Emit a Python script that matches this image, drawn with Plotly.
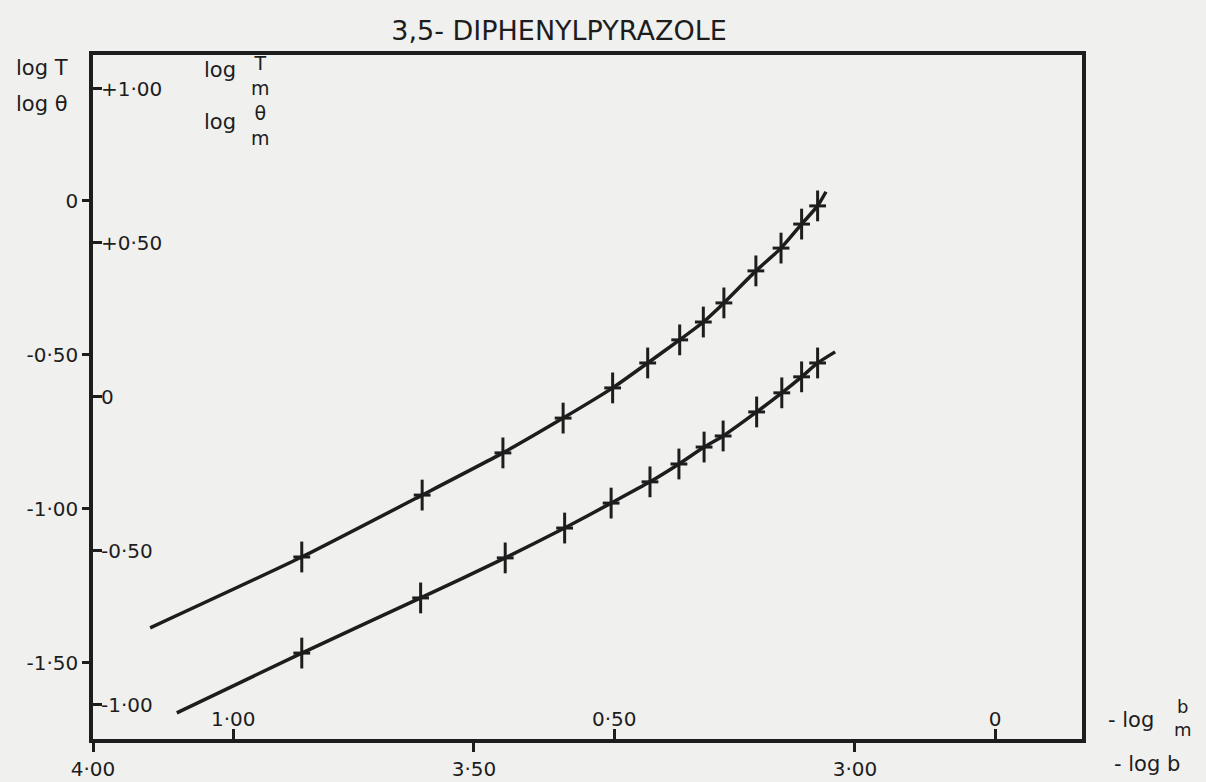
import plotly.graph_objects as go

# ---------------- data ----------------
# outer scales: x = -log b, y = log T (upper curve) / log theta (lower curve)
upper_x = [3.726, 3.568, 3.462, 3.383, 3.318, 3.272, 3.230, 3.199, 3.172, 3.130, 3.097, 3.070, 3.049]
upper_y = [-1.156, -0.955, -0.818, -0.705, -0.607, -0.526, -0.451, -0.393, -0.331, -0.227, -0.153, -0.075, -0.016]
lower_x = [3.726, 3.570, 3.459, 3.381, 3.320, 3.269, 3.231, 3.198, 3.173, 3.129, 3.096, 3.070, 3.049]
lower_y = [-1.468, -1.289, -1.159, -1.062, -0.981, -0.912, -0.854, -0.799, -0.763, -0.685, -0.623, -0.571, -0.526]
# ends of the drawn curves (they run past the first and last points)
upper_ends_x = [3.925, 3.038]
upper_ends_y = [-1.386, 0.030]
lower_ends_x = [3.890, 3.026]
lower_ends_y = [-1.662, -0.490]

# tick values and labels
x_ticks = [4.00, 3.50, 3.00]
x_ticktext = ["4·00", "3·50", "3·00"]
x2_ticks = [1.00, 0.50, 0.0]
x2_ticktext = ["1·00", "0·50", "0"]
y_ticks = [0.0, -0.50, -1.00, -1.50]
y_ticktext = ["0", "-0·50", "-1·00", "-1·50"]
y2_ticks = [1.00, 0.50, 0.0, -0.50, -1.00]
y2_ticktext = ["+1·00", "+0·50", "0", "-0·50", "-1·00"]

X_RANGE = [4.00, 2.702]
Y_RANGE = [-1.747, 0.474]
X_SHIFT = -2.816   # -log(b/m) = -log b + X_SHIFT
Y_SHIFT = 0.636    # log(T/m) = log T + Y_SHIFT

INK = "#1d1d1d"
PAPER = "#f0f0ee"
FONT = "DejaVu Sans"

W, H = 1206, 782
L, R, T, B = 93, 1082, 55, 739


def px(xp):
    return (xp - L) / (R - L)


def py(yp):
    return (B - yp) / (B - T)


fig = go.Figure()


def curve(xs, ys, ends_x, ends_y):
    cx = [ends_x[0]] + xs + [ends_x[1]]
    cy = [ends_y[0]] + ys + [ends_y[1]]
    fig.add_trace(go.Scatter(x=cx, y=cy, mode="lines", line=dict(color=INK, width=3.5, shape="spline", smoothing=0.5),
                             hoverinfo="skip", showlegend=False))
    fig.add_trace(go.Scatter(x=xs, y=ys, mode="markers",
                             marker=dict(symbol="line-ns", size=22, line=dict(color=INK, width=3)),
                             showlegend=False))
    fig.add_trace(go.Scatter(x=xs, y=ys, mode="markers",
                             marker=dict(symbol="line-ew", size=12, line=dict(color=INK, width=3)),
                             showlegend=False))


curve(upper_x, upper_y, upper_ends_x, upper_ends_y)
curve(lower_x, lower_y, lower_ends_x, lower_ends_y)

# invisible trace so the inner (secondary) scales are drawn
fig.add_trace(go.Scatter(x=[None], y=[None], xaxis="x2", yaxis="y2", mode="markers", showlegend=False))

tickfont = dict(family=FONT, size=20, color=INK)

fig.update_layout(
    width=W, height=H,
    margin=dict(l=L, r=W - R, t=T, b=H - B, autoexpand=False),
    paper_bgcolor=PAPER, plot_bgcolor=PAPER,
    font=dict(family=FONT, color=INK),
    title=dict(text="3,5- DIPHENYLPYRAZOLE", x=559 / W, y=1 - 31 / H, xanchor="center", yanchor="middle",
               font=dict(family=FONT, size=27, color=INK)),
    xaxis=dict(range=X_RANGE, tickvals=x_ticks, ticktext=x_ticktext, ticks="outside", ticklen=9, tickwidth=3,
               tickcolor=INK, showline=True, linewidth=3.5, linecolor=INK, mirror=True, showgrid=False,
               zeroline=False, tickfont=tickfont, automargin=False),
    yaxis=dict(range=Y_RANGE, tickvals=y_ticks, ticktext=y_ticktext, ticks="outside", ticklen=7, tickwidth=3,
               tickcolor=INK, showline=True, linewidth=3.5, linecolor=INK, mirror=True, showgrid=False,
               zeroline=False, tickfont=tickfont, automargin=False),
    xaxis2=dict(range=[X_RANGE[0] + X_SHIFT, X_RANGE[1] + X_SHIFT], overlaying="x", side="bottom", anchor="y2",
                tickvals=x2_ticks, ticktext=x2_ticktext, ticks="inside", ticklen=10, tickwidth=3, tickcolor=INK,
                ticklabelposition="inside", showline=False, showgrid=False, zeroline=False, tickfont=tickfont,
                automargin=False),
    yaxis2=dict(range=[Y_RANGE[0] + Y_SHIFT, Y_RANGE[1] + Y_SHIFT], overlaying="y", side="left", anchor="x2",
                tickvals=y2_ticks, ticktext=y2_ticktext, ticks="inside", ticklen=9, tickwidth=3, tickcolor=INK,
                ticklabelposition="inside", showline=False, showgrid=False, zeroline=False, tickfont=tickfont,
                automargin=False),
)

ann = [
    ("log T", 42, 68, 21),
    ("log θ", 42, 104, 21),
    ("log", 220, 70, 21),
    ("T<br>m", 260, 76, 19),
    ("log", 220, 122, 21),
    ("θ<br>m", 260, 126, 19),
    ("- log", 1131, 720, 21),
    ("b<br>m", 1183, 718, 18),
    ("- log b", 1147, 764, 21),
]
for text, xp, yp, size in ann:
    fig.add_annotation(text=text, xref="paper", yref="paper", x=px(xp), y=py(yp), showarrow=False,
                       xanchor="center", yanchor="middle", font=dict(family=FONT, size=size, color=INK))

fig.write_html("out.html", config={"displayModeBar": False},
               post_script="document.body.style.margin='0';")
